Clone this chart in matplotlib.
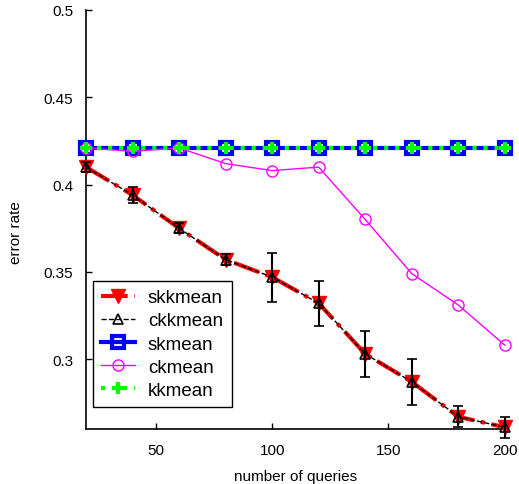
import matplotlib
matplotlib.use("Agg")
import matplotlib.pyplot as plt

plt.rcParams['font.family'] = ['Liberation Sans', 'DejaVu Sans']

queries = [20, 40, 60, 80, 100, 120, 140, 160, 180, 200]
skkmean = [0.410, 0.394, 0.375, 0.357, 0.347, 0.332, 0.303, 0.287, 0.267, 0.261]
ckkmean = [0.410, 0.394, 0.375, 0.357, 0.347, 0.332, 0.303, 0.287, 0.267, 0.261]
ckkmean_err = [0.003, 0.0045, 0.003, 0.003, 0.014, 0.013, 0.013, 0.013, 0.006, 0.006]
skmean = [0.421] * 10
ckmean = [0.421, 0.419, 0.421, 0.412, 0.408, 0.410, 0.380, 0.349, 0.331, 0.308]
kkmean = [0.421] * 10

yticks = [0.3, 0.35, 0.4, 0.45, 0.5]
ytick_labels = ['0.3', '0.35', '0.4', '0.45', '0.5']
xticks = [50, 100, 150, 200]

fig = plt.figure(figsize=(5.19, 4.85), dpi=100)
ax = fig.add_axes([0.1657, 0.1134, 0.807, 0.864])

h1, = ax.plot(queries, skkmean, color='red', linestyle='-.', linewidth=3,
              marker='v', markersize=10, markerfacecolor='red', markeredgecolor='red',
              label='skkmean', zorder=3, clip_on=False)
h2 = ax.errorbar(queries, ckkmean, yerr=ckkmean_err, color='black', linestyle='--',
                 linewidth=1, marker='^', markersize=7, markerfacecolor='none',
                 markeredgecolor='black', markeredgewidth=1.2, ecolor='black',
                 elinewidth=1.5, capsize=3.5, capthick=1.5, label='ckkmean', zorder=4)
for art in h2.lines[0:1] + tuple(h2.lines[1]) + tuple(h2.lines[2]):
    art.set_clip_on(False)
h3, = ax.plot(queries, skmean, color='blue', linestyle='-', linewidth=3,
              marker='s', markersize=8, markerfacecolor='none', markeredgecolor='blue',
              markeredgewidth=3, label='skmean', zorder=3, clip_on=False)
h4, = ax.plot(queries, ckmean, color='magenta', linestyle='-', linewidth=1,
              marker='o', markersize=8, markerfacecolor='none', markeredgecolor='magenta',
              label='ckmean', zorder=3, clip_on=False)
h5, = ax.plot(queries, kkmean, color='#00ff00', linestyle=':', linewidth=3,
              marker='+', markersize=9, markeredgewidth=3, label='kkmean', zorder=5,
              clip_on=False)

ax.set_xlim(20, 200)
ax.set_ylim(0.26, 0.5)
ax.set_xticks(xticks)
ax.set_yticks(yticks)
ax.set_yticklabels(ytick_labels)
ax.tick_params(direction='in', length=4, width=1, labelsize=11)
ax.tick_params(axis='y', pad=9)
ax.tick_params(axis='x', pad=10)

ax.spines['top'].set_visible(False)
ax.spines['right'].set_visible(False)
ax.spines['left'].set_linewidth(1.2)
ax.spines['bottom'].set_linewidth(1.2)

ax.set_xlabel('number of queries', fontsize=11)
ax.set_ylabel('error rate', fontsize=11)
ax.xaxis.set_label_coords(0.5, -0.095)
ax.yaxis.set_label_coords(-0.15, 0.47)

leg = ax.legend([h1, h2.lines[0], h3, h4, h5],
                ['skkmean', 'ckkmean', 'skmean', 'ckmean', 'kkmean'],
                loc='lower left', bbox_to_anchor=(0.016, 0.052), fontsize=13.5,
                frameon=True, fancybox=False, edgecolor='black', framealpha=1,
                handlelength=1.8, borderpad=0.45, labelspacing=0.32,
                handletextpad=0.7, borderaxespad=0)
leg.get_frame().set_linewidth(1)

fig.savefig('out.png', dpi=100)
